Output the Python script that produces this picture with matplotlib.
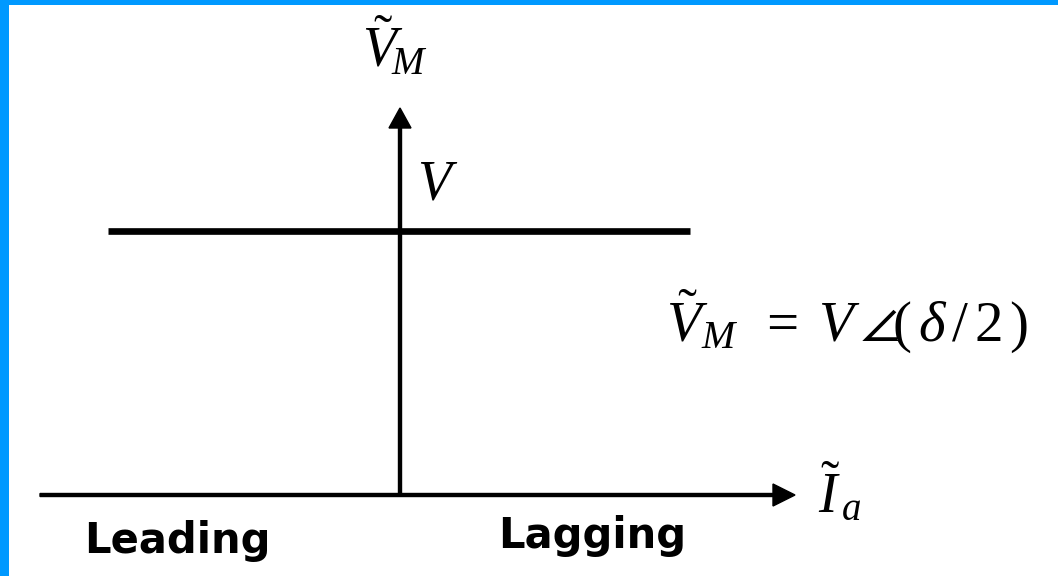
import matplotlib.pyplot as plt
from matplotlib.patches import Rectangle

plt.rcParams["mathtext.fontset"] = "custom"
plt.rcParams["mathtext.it"] = "Liberation Serif:italic"
plt.rcParams["mathtext.rm"] = "Liberation Serif"

# V_M stays flat at V across the whole armature current range
i_line = [-2.92, 2.90]
v_level = 2.64
v_line = [v_level, v_level]

# axis extents (same units as the current / voltage values)
i_axis = [-3.60, 3.95]
v_axis_top = 3.87

fig = plt.figure(figsize=(10.58, 5.76), dpi=100, facecolor="#0099FF")
# white panel inside the blue frame
fig.patches.append(Rectangle((9 / 1058, 0), 1 - 9 / 1058, 1 - 5 / 576,
                             transform=fig.transFigure, facecolor="white",
                             edgecolor="none", zorder=-10))

ax = fig.add_axes([0, 0, 1, 1])
ax.set_xlim(-4.0, 6.58)
ax.set_ylim(-0.81, 4.95)
ax.axis("off")

# horizontal (I_a) and vertical (V_M) axes with arrow heads
ax.arrow(i_axis[0], 0, i_axis[1] - i_axis[0], 0, width=0.03, head_width=0.22,
         head_length=0.22, length_includes_head=True, fc="black", ec="black")
ax.arrow(0, 0, 0, v_axis_top, width=0.03, head_width=0.22,
         head_length=0.20, length_includes_head=True, fc="black", ec="black")

ax.plot(i_line, v_line, color="black", lw=4.8, solid_capstyle="butt")

ax.text(-0.38, 4.16, r"$\tilde{V}_{\!M}$", fontsize=40, ha="left", va="bottom")
ax.text(0.17, 2.84, r"$V$", fontsize=40, ha="left", va="bottom")
ax.text(2.66, 1.40,
        r"$\tilde{V}_{M}\;\;=\;V\,\angle\!(\,\delta\,/\,2\,)$",
        fontsize=41, ha="left", va="bottom")
ax.text(4.18, -0.30, r"$\tilde{I}_{\,a}$", fontsize=40, ha="left", va="bottom")

ax.text(0.84 - 4.0, -0.58, "Leading", fontsize=30, fontweight="bold",
        family="DejaVu Sans", ha="left", va="baseline")
ax.text(0.98, -0.53, "Lagging", fontsize=30, fontweight="bold",
        family="DejaVu Sans", ha="left", va="baseline")

fig.savefig("out.png", dpi=100, facecolor=fig.get_facecolor())
